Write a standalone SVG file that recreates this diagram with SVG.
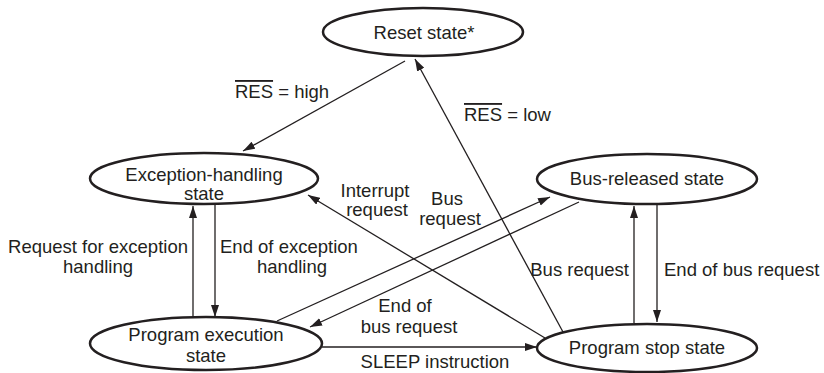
<svg xmlns="http://www.w3.org/2000/svg" width="824" height="373" viewBox="0 0 824 373">
<style>
.n{fill:#fff;stroke:#231f20;stroke-width:2.5}
.t{font-family:"Liberation Sans",Arial,sans-serif;font-size:18.5px;fill:#231f20}
.m{text-anchor:middle}
.e{text-anchor:end}
.c{stroke:#231f20;stroke-width:1.3;fill:none;marker-end:url(#ah)}
.ol{text-decoration:overline}
</style>
<defs>
<marker id="ah" markerUnits="userSpaceOnUse" markerWidth="13" markerHeight="9" refX="12" refY="4" orient="auto">
<path d="M0,0 L12,4 L0,8 z" fill="#231f20"/>
</marker>
</defs>
<rect width="824" height="373" fill="#fff"/>
<g id="connectors">
<line class="c" x1="405" y1="61" x2="243" y2="151"/>
<line class="c" x1="563" y1="332" x2="415" y2="59"/>
<line class="c" x1="545" y1="338" x2="308" y2="195"/>
<line class="c" x1="277" y1="321" x2="550" y2="197"/>
<line class="c" x1="579" y1="202" x2="310" y2="327"/>
<line class="c" x1="322" y1="347" x2="537" y2="347"/>
<line class="c" x1="193" y1="318" x2="193" y2="206"/>
<line class="c" x1="215" y1="205" x2="215" y2="317"/>
<line class="c" x1="634" y1="323" x2="634" y2="206"/>
<line class="c" x1="657" y1="204" x2="657" y2="322"/>
</g>
<g id="labels" class="t">
<text x="235" y="98"><tspan class="ol">RES</tspan> = high</text>
<text x="464" y="121"><tspan class="ol">RES</tspan> = low</text>
<text class="m" x="375" y="197">Interrupt</text>
<text class="m" x="377" y="216">request</text>
<text class="m" x="447" y="205">Bus</text>
<text class="m" x="450" y="225">request</text>
<text class="m" x="98" y="253">Request for exception</text>
<text class="m" x="98" y="273">handling</text>
<text x="220" y="253">End of exception</text>
<text class="m" x="292" y="273">handling</text>
<text class="e" x="629" y="276">Bus request</text>
<text x="664" y="276">End of bus request</text>
<text class="m" x="405" y="312">End of</text>
<text class="m" x="409" y="333">bus request</text>
<text class="m" x="435" y="368">SLEEP instruction</text>
</g>
<g id="reset">
<ellipse class="n" cx="423" cy="32" rx="100" ry="24"/>
<text class="t m" x="424" y="39">Reset state*</text>
</g>
<g id="exception">
<ellipse class="n" cx="204" cy="178.5" rx="114" ry="25.5"/>
<text class="t m" x="204" y="181">Exception-handling</text>
<text class="t m" x="204" y="200">state</text>
</g>
<g id="busreleased">
<ellipse class="n" cx="647" cy="179" rx="110" ry="25"/>
<text class="t m" x="647" y="185">Bus-released state</text>
</g>
<g id="progexec">
<ellipse class="n" cx="206" cy="343.5" rx="116" ry="26.5"/>
<text class="t m" x="206" y="341">Program execution</text>
<text class="t m" x="206" y="362">state</text>
</g>
<g id="progstop">
<ellipse class="n" cx="647" cy="348" rx="110" ry="24"/>
<text class="t m" x="647" y="354">Program stop state</text>
</g>
</svg>
